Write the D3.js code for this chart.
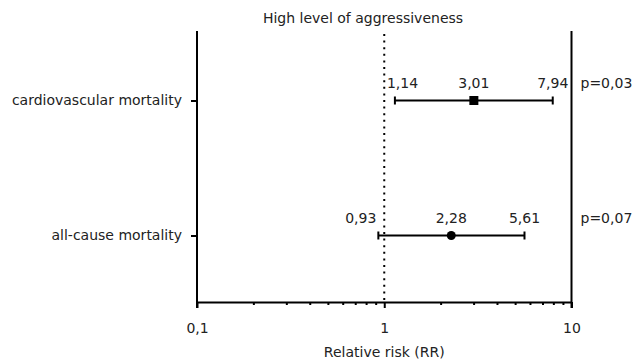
<!DOCTYPE html>
<html>
<head>
<meta charset="utf-8">
<script src="https://cdn.jsdelivr.net/npm/d3@7"></script>
<style>
  html, body { margin: 0; padding: 0; background: #fff; }
  svg { display: block; }
  text { font-family: "DejaVu Sans", sans-serif; fill: #222; }
</style>
</head>
<body>
<svg id="chart" width="643" height="363"></svg>
<script>
// ---- data ----
const title = "High level of aggressiveness";
const xAxisTitle = "Relative risk (RR)";
const categories = ["cardiovascular mortality", "all-cause mortality"];
const rr = [3.01, 2.28];
const lower = [1.14, 0.93];
const upper = [7.94, 5.61];
const markers = ["square", "circle"];
const pValues = ["p=0,03", "p=0,07"];
const lowerLabelAnchor = ["start", "end"];
const xTicksMajor = [0.1, 1, 10];
const xTickLabels = ["0,1", "1", "10"];
const referenceValue = 1;

const fmt = v => v.toFixed(2).replace(".", ",");

// ---- layout ----
const FONT = '"DejaVu Sans", sans-serif';
const FS = 14;
const mLeft = 197, mRight = 571.5, mTop = 31, mBottom = 302;
const svg = d3.select("#chart");

const x = d3.scaleLog().domain([0.1, 10]).range([mLeft, mRight]);
const y = d3.scalePoint().domain(categories).range([mTop + 2, mBottom + 1]).padding(0.5);

// title
svg.append("text").attr("x", 363).attr("y", 23).attr("text-anchor", "middle")
  .attr("font-size", FS).text(title);

// frame lines
svg.append("line").attr("x1", x(0.1)).attr("x2", x(0.1)).attr("y1", mTop).attr("y2", mBottom + 6)
  .attr("stroke", "#000").attr("stroke-width", 2);
svg.append("line").attr("x1", x(10)).attr("x2", x(10)).attr("y1", mTop).attr("y2", mBottom + 6)
  .attr("stroke", "#000").attr("stroke-width", 2);

// reference dotted line
svg.append("line").attr("x1", x(referenceValue)).attr("x2", x(referenceValue))
  .attr("y1", mTop + 3).attr("y2", mBottom)
  .attr("stroke", "#000").attr("stroke-width", 2).attr("stroke-dasharray", "2,4.6");

// bottom axis
const minorTicks = x.ticks().filter(t => !xTicksMajor.some(m => Math.abs(m - t) < 1e-9));
const axisMinor = d3.axisBottom(x).tickValues(minorTicks).tickSize(3).tickFormat("").tickSizeOuter(0);
const gMinor = svg.append("g").attr("transform", `translate(0,${mBottom})`).call(axisMinor);
gMinor.select(".domain").attr("stroke", "#000").attr("stroke-width", 2);
gMinor.selectAll(".tick line").attr("stroke", "#000").attr("stroke-width", 2);

const axisMajor = d3.axisBottom(x).tickValues(xTicksMajor).tickSize(6).tickSizeOuter(0)
  .tickFormat((d, i) => xTickLabels[i]);
const gMajor = svg.append("g").attr("transform", `translate(0,${mBottom})`).call(axisMajor);
gMajor.select(".domain").remove();
gMajor.selectAll(".tick line").attr("stroke", "#000").attr("stroke-width", 2);
gMajor.selectAll(".tick text").attr("font-size", FS).attr("y", 31).attr("dy", 0)
  .attr("fill", "#222").style("font-family", FONT);

svg.append("text").attr("x", x(referenceValue)).attr("y", 357).attr("text-anchor", "middle")
  .attr("font-size", FS).text(xAxisTitle);

// left axis category ticks & labels
const axisLeft = d3.axisLeft(y).tickSize(6).tickSizeOuter(0).tickPadding(9);
const gLeft = svg.append("g").attr("transform", `translate(${mLeft},0)`).call(axisLeft);
gLeft.select(".domain").remove();
gLeft.selectAll(".tick line").attr("stroke", "#000").attr("stroke-width", 2);
gLeft.selectAll(".tick text").attr("font-size", FS).attr("fill", "#222")
  .style("font-family", FONT);

// rows
const rows = categories.map((c, i) => ({c, rr: rr[i], lo: lower[i], hi: upper[i], m: markers[i], p: pValues[i], la: lowerLabelAnchor[i]}));
const g = svg.append("g");
rows.forEach(r => {
  const cy = y(r.c);
  g.append("line").attr("x1", x(r.lo)).attr("x2", x(r.hi)).attr("y1", cy).attr("y2", cy)
    .attr("stroke", "#000").attr("stroke-width", 2);
  [r.lo, r.hi].forEach(v => {
    g.append("line").attr("x1", x(v)).attr("x2", x(v)).attr("y1", cy - 4).attr("y2", cy + 4)
      .attr("stroke", "#000").attr("stroke-width", 2);
  });
  if (r.m === "square") {
    g.append("rect").attr("x", x(r.rr) - 4.5).attr("y", cy - 4.5).attr("width", 9).attr("height", 9).attr("fill", "#000");
  } else {
    g.append("circle").attr("cx", x(r.rr)).attr("cy", cy).attr("r", 4.5).attr("fill", "#000");
  }
  const ly = cy - 13;
  g.append("text").attr("x", x(r.lo) + (r.la === "start" ? -8 : -2)).attr("y", ly)
    .attr("text-anchor", r.la).attr("font-size", FS).text(fmt(r.lo));
  g.append("text").attr("x", x(r.rr)).attr("y", ly).attr("text-anchor", "middle")
    .attr("font-size", FS).text(fmt(r.rr));
  g.append("text").attr("x", x(r.hi)).attr("y", ly).attr("text-anchor", "middle")
    .attr("font-size", FS).text(fmt(r.hi));
  g.append("text").attr("x", x(10) + 9).attr("y", ly).attr("text-anchor", "start")
    .attr("font-size", FS).text(r.p);
});
</script>
</body>
</html>
